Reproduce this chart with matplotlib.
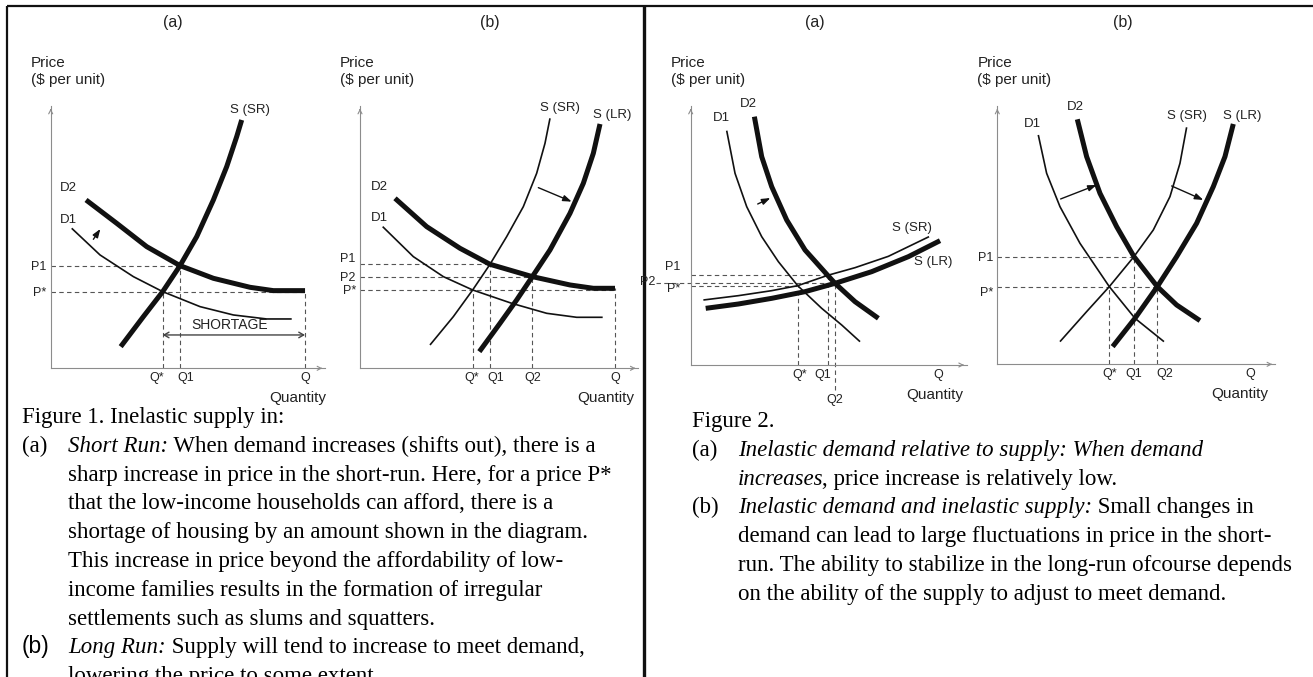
import matplotlib
matplotlib.use("Agg")
import matplotlib.pyplot as plt
from matplotlib.transforms import ScaledTranslation

# ---------- Figure 1 (a): short run ----------
f1a_ssr_q = [21.0, 27.8, 33.6, 38.8, 43.8, 48.8, 52.8, 55.8, 57.3]
f1a_ssr_p = [6.5, 15.5, 23.0, 30.8, 39.5, 50.5, 60.5, 69.5, 74.5]
f1a_d2_q = [10.6, 19.8, 28.8, 38.8, 48.8, 59.8, 66.8, 76.3]
f1a_d2_p = [50.5, 43.5, 36.5, 30.8, 27.0, 24.3, 23.3, 23.3]
f1a_d1_q = [6.3, 14.8, 24.8, 33.6, 44.8, 54.8, 64.8, 72.3]
f1a_d1_p = [42.0, 34.0, 27.5, 23.0, 18.5, 16.0, 14.8, 14.8]
f1a_p = [23.0, 30.8]
f1a_p_lab = ['P*', 'P1']
f1a_p_to = [76.3, 38.8]
f1a_q = [33.6, 38.8, 76.3]
f1a_q_lab = ['Q*', 'Q1', 'Q']
f1a_q_to = [23.0, 30.8, 23.3]
f1a_shortage = 10.0

# ---------- Figure 1 (b): long run ----------
f1b_ssr_q = [21.0, 28.0, 33.8, 39.0, 44.0, 49.0, 53.0, 55.5, 57.0]
f1b_ssr_p = [7.0, 15.5, 23.5, 31.2, 39.5, 48.5, 58.5, 67.5, 75.0]
f1b_slr_q = [35.8, 42.0, 47.0, 51.7, 57.0, 63.0, 67.0, 70.0, 72.0]
f1b_slr_p = [5.0, 13.5, 20.5, 27.5, 35.5, 46.5, 55.5, 64.5, 73.3]
f1b_d2_q = [10.5, 20.0, 30.0, 39.0, 51.7, 63.0, 70.0, 76.5]
f1b_d2_p = [51.0, 42.5, 36.0, 31.2, 27.5, 25.0, 24.0, 24.0]
f1b_d1_q = [6.8, 16.0, 25.0, 33.8, 45.5, 56.0, 65.0, 72.8]
f1b_d1_p = [42.5, 33.5, 27.5, 23.5, 19.5, 16.5, 15.3, 15.3]
f1b_p = [23.5, 27.5, 31.2]
f1b_p_lab = ['P*', 'P2', 'P1']
f1b_p_to = [76.5, 51.7, 39.0]
f1b_q = [33.8, 39.0, 51.7, 76.5]
f1b_q_lab = ['Q*', 'Q1', 'Q2', 'Q']
f1b_q_to = [23.5, 31.2, 27.5, 24.0]

# ---------- Figure 2 (a): inelastic demand ----------
f2a_d1_q = [10.8, 13.3, 16.8, 21.3, 26.3, 32.1, 39.3, 45.3, 50.8]
f2a_d1_p = [70.3, 57.5, 47.5, 38.5, 31.0, 23.8, 17.0, 12.0, 7.0]
f2a_d2_q = [19.1, 21.3, 24.3, 28.8, 34.3, 41.1, 43.3, 49.3, 56.3]
f2a_d2_p = [74.5, 62.5, 53.5, 43.5, 34.5, 26.9, 24.5, 19.0, 14.0]
f2a_ssr_q = [3.8, 14.3, 24.3, 32.1, 41.1, 49.3, 59.3, 71.5]
f2a_ssr_p = [19.5, 20.8, 22.3, 23.8, 26.9, 29.2, 32.6, 38.5]
f2a_slr_q = [4.5, 14.3, 24.3, 34.3, 43.3, 54.3, 65.3, 74.8]
f2a_slr_p = [17.0, 18.3, 20.0, 22.0, 24.5, 28.0, 32.5, 37.3]
f2a_p = [23.8, 26.9]
f2a_p_lab = ['P*', 'P1']
f2a_p_to = [32.1, 41.1]
f2a_p2 = 24.5
f2a_q = [32.1, 41.1, 74.3]
f2a_q_lab = ['Q*', 'Q1', 'Q']
f2a_q_to = [23.8, 26.9, 0.0]
f2a_q2 = 43.3

# ---------- Figure 2 (b): inelastic demand and supply ----------
f2b_d1_q = [12.3, 14.8, 18.8, 24.8, 33.6, 41.3, 50.0]
f2b_d1_p = [68.8, 57.3, 47.3, 36.3, 23.3, 13.8, 6.8]
f2b_d2_q = [24.0, 26.8, 30.8, 35.8, 41.0, 48.0, 53.8, 60.8]
f2b_d2_p = [73.5, 62.3, 51.3, 41.3, 32.3, 23.3, 17.8, 13.1]
f2b_ssr_q = [18.8, 26.8, 33.6, 41.0, 46.8, 51.8, 54.8, 56.8]
f2b_ssr_p = [6.8, 15.8, 23.3, 32.3, 40.3, 50.3, 60.3, 71.1]
f2b_slr_q = [34.6, 41.3, 48.0, 53.8, 59.8, 64.8, 68.3, 70.8]
f2b_slr_p = [5.3, 13.8, 23.3, 32.3, 42.3, 53.3, 62.3, 72.1]
f2b_p = [23.3, 32.3]
f2b_p_lab = ['P*', 'P1']
f2b_p_to = [48.0, 41.0]
f2b_q = [33.6, 41.0, 48.0, 75.8]
f2b_q_lab = ['Q*', 'Q1', 'Q2', 'Q']
f2b_q_to = [23.3, 32.3, 23.3, 0.0]

INK = '#111111'
AXC = '#8c8c8c'
DASH = '#555555'
TXT = '#222222'
SANS = ['Liberation Sans', 'DejaVu Sans']
SERIF = ['Liberation Serif', 'DejaVu Serif']
THIN, THICK = 1.2, 3.6
LBL, TCK, AXL = 9.5, 9, 11
plt.rcParams['font.family'] = SANS

W, H = 1313, 677
U = 10 / 3   # pixels per data unit

fig = plt.figure(figsize=(W / 100, H / 100), dpi=100)
bg = fig.add_axes([0, 0, 1, 1])
bg.set_xlim(0, W)
bg.set_ylim(H, 0)
bg.axis('off')

# frame lines
bg.plot([7, 7], [6, H], color='#111', lw=1.6, solid_capstyle='butt')
bg.plot([7, W], [6, 6], color='#111', lw=1.6, solid_capstyle='butt')
bg.plot([644, 644], [6, H], color='#111', lw=2.4, solid_capstyle='butt')

for x, t in [(173, '(a)'), (490, '(b)'), (815, '(a)'), (1123, '(b)')]:
    bg.text(x, 22, t, ha='center', va='center', fontsize=11.5, color=TXT)


def panel(ox, oy, xmax, ymax):
    ax = fig.add_axes([ox / W, 1 - oy / H, xmax * U / W, ymax * U / H])
    ax.set_xlim(0, xmax)
    ax.set_ylim(0, ymax)
    ax.patch.set_visible(False)
    for s in ['top', 'right']:
        ax.spines[s].set_visible(False)
    for s in ['left', 'bottom']:
        ax.spines[s].set_color(AXC)
        ax.spines[s].set_linewidth(0.8)
    ax.tick_params(length=0, labelsize=TCK, labelcolor=TXT, pad=3)
    ax.set_xticks([])
    ax.set_yticks([])
    arr = dict(arrowstyle='->,head_length=0.35,head_width=0.18', color=AXC, lw=0.8,
               mutation_scale=8)
    ax.annotate('', xy=(xmax, 0), xytext=(xmax - 2, 0), arrowprops=arr, annotation_clip=False)
    ax.annotate('', xy=(0, ymax), xytext=(0, ymax - 2), arrowprops=arr, annotation_clip=False)
    ax.text(-6, ymax + 13, 'Price', fontsize=AXL, color=TXT, ha='left', va='center',
            clip_on=False)
    ax.text(-6, ymax + 7.8, '($ per unit)', fontsize=AXL, color=TXT, ha='left', va='center',
            clip_on=False)
    return ax


def curve(ax, q, p, lw):
    ax.plot(q, p, color=INK, lw=lw, clip_on=False, solid_capstyle='butt', solid_joinstyle='round')


def guides(ax, p, p_to, q, q_to):
    for pv, qe in zip(p, p_to):
        ax.plot([0, qe], [pv, pv], color=DASH, lw=0.8, ls=(0, (4, 3)), clip_on=False)
    for qv, pe in zip(q, q_to):
        ax.plot([qv, qv], [0, pe], color=DASH, lw=0.8, ls=(0, (4, 3)), clip_on=False)


def shift(ax, q0, p0, q1, p1):
    ax.annotate('', xy=(q1, p1), xytext=(q0, p0), annotation_clip=False,
                arrowprops=dict(arrowstyle='-|>,head_length=0.5,head_width=0.18', color=INK,
                                lw=1.0, mutation_scale=10, shrinkA=0, shrinkB=0))


def label(ax, q, p, t, ha='center', size=LBL):
    ax.text(q, p, t, fontsize=size, color=TXT, ha=ha, va='center', clip_on=False)


def nudge(labels, offsets, horizontal):
    # shift crowded tick labels apart, offsets in pixels
    for lab, d in zip(labels, offsets):
        dx, dy = (d, 0) if horizontal else (0, d)
        lab.set_transform(lab.get_transform() +
                          ScaledTranslation(dx / 100, dy / 100, fig.dpi_scale_trans))


def ticks(ax, q, q_lab, p, p_lab, qdx=None, pdy=None):
    ax.set_xticks(q, q_lab)
    if p:
        ax.set_yticks(p, p_lab)
    if qdx:
        nudge(ax.get_xticklabels(), qdx, True)
    if pdy:
        nudge(ax.get_yticklabels(), pdy, False)


def quantity(ax, q):
    ax.text(q, -9, 'Quantity', fontsize=AXL, color=TXT, ha='center', va='center', clip_on=False)


# ---- Figure 1 (a)
ax = panel(50.7, 368.3, 82.3, 78.7)
guides(ax, f1a_p, f1a_p_to, f1a_q, f1a_q_to)
curve(ax, f1a_d1_q, f1a_d1_p, THIN)
curve(ax, f1a_d2_q, f1a_d2_p, THICK)
curve(ax, f1a_ssr_q, f1a_ssr_p, THICK)
ticks(ax, f1a_q, f1a_q_lab, f1a_p, f1a_p_lab, qdx=[-6, 6, 0])
ax.annotate('', xy=(f1a_q[0], f1a_shortage), xytext=(f1a_q[-1], f1a_shortage),
            arrowprops=dict(arrowstyle='<->,head_length=0.35,head_width=0.2', color='#444',
                            lw=1.0, mutation_scale=10, shrinkA=0, shrinkB=0))
label(ax, 53.8, 12.9, 'SHORTAGE', size=10)
shift(ax, 12.8, 38.7, 14.9, 41.8)
label(ax, 5.3, 54.0, 'D2')
label(ax, 5.3, 44.5, 'D1')
label(ax, 59.8, 77.5, 'S (SR)')
quantity(ax, 74.1)

# ---- Figure 1 (b)
ax = panel(360, 368.3, 83.5, 78.7)
guides(ax, f1b_p, f1b_p_to, f1b_q, f1b_q_to)
curve(ax, f1b_d1_q, f1b_d1_p, THIN)
curve(ax, f1b_d2_q, f1b_d2_p, THICK)
curve(ax, f1b_ssr_q, f1b_ssr_p, THIN)
curve(ax, f1b_slr_q, f1b_slr_p, THICK)
ticks(ax, f1b_q, f1b_q_lab, f1b_p, f1b_p_lab, qdx=[-1, 6, 0, 0], pdy=[0, 0, 7])
shift(ax, 53.5, 54.2, 63.5, 50.0)
label(ax, 5.8, 54.3, 'D2')
label(ax, 5.8, 45.0, 'D1')
label(ax, 60.0, 78.0, 'S (SR)')
label(ax, 75.8, 76.0, 'S (LR)')
quantity(ax, 73.8)

# ---- Figure 2 (a)
ax = panel(690.7, 365, 82.8, 77.7)
guides(ax, f2a_p, f2a_p_to, f2a_q, f2a_q_to)
ax.plot([-10.5, f2a_q2], [f2a_p2, f2a_p2], color=DASH, lw=0.8, ls=(0, (4, 3)), clip_on=False)
ax.plot([f2a_q2, f2a_q2], [-7.5, f2a_p2], color=DASH, lw=0.8, ls=(0, (4, 3)), clip_on=False)
curve(ax, f2a_d1_q, f2a_d1_p, THIN)
curve(ax, f2a_d2_q, f2a_d2_p, THICK)
curve(ax, f2a_ssr_q, f2a_ssr_p, THIN)
curve(ax, f2a_slr_q, f2a_slr_p, THICK)
ax.set_xticks(f2a_q, f2a_q_lab)
nudge(ax.get_xticklabels(), [2, -5, 0], True)
label(ax, -3.0, f2a_p[1] + 2.6, f2a_p_lab[1], ha='right', size=TCK)
label(ax, -3.0, f2a_p[0] - 0.9, f2a_p_lab[0], ha='right', size=TCK)
label(ax, -10.6, f2a_p2 + 0.3, 'P2', ha='right', size=TCK)
label(ax, f2a_q2, -10.5, 'Q2', size=TCK)
shift(ax, 20.1, 48.3, 23.9, 50.1)
label(ax, 9.3, 74.0, 'D1')
label(ax, 17.3, 78.3, 'D2')
label(ax, 66.3, 41.2, 'S (SR)')
label(ax, 72.8, 31.0, 'S (LR)')
quantity(ax, 73.3)

# ---- Figure 2 (b)
ax = panel(997.3, 364.3, 83.3, 77.5)
guides(ax, f2b_p, f2b_p_to, f2b_q, f2b_q_to)
curve(ax, f2b_d1_q, f2b_d1_p, THIN)
curve(ax, f2b_d2_q, f2b_d2_p, THICK)
curve(ax, f2b_ssr_q, f2b_ssr_p, THIN)
curve(ax, f2b_slr_q, f2b_slr_p, THICK)
ticks(ax, f2b_q, f2b_q_lab, f2b_p, f2b_p_lab, qdx=[0, 0, 7, 0], pdy=[-5, 0])
shift(ax, 19.0, 49.6, 29.8, 53.8)
shift(ax, 52.3, 53.5, 61.8, 49.3)
label(ax, 10.6, 72.1, 'D1')
label(ax, 23.3, 77.1, 'D2')
label(ax, 56.8, 74.5, 'S (SR)')
label(ax, 73.6, 74.5, 'S (LR)')
quantity(ax, 72.8)

# ---- captions
r = fig.canvas.get_renderer()
N, I = 'normal', 'italic'
CAP = 16.5


def rich(x, y, parts, size=CAP):
    for k, (txt, fam, sty) in enumerate(parts):
        t = bg.text(x, y, txt, fontsize=size, family=fam, style=sty, ha='left',
                    va='baseline', color='#000')
        bb = t.get_window_extent(renderer=r)
        x = bg.transData.inverted().transform((bb.x1, bb.y0))[0]
        # italic overhang before punctuation that follows without a space
        if sty == I and k + 1 < len(parts) and not parts[k + 1][0].startswith(' '):
            x -= 2


cap1 = [
    (22, [('Figure 1. Inelastic supply in:', SERIF, N)]),
    (22, [('(a)', SERIF, N)]),
    (68, [('Short Run:', SERIF, I), (' When demand increases (shifts out), there is a', SERIF, N)]),
    (68, [('sharp increase in price in the short-run. Here, for a price P*', SERIF, N)]),
    (68, [('that the low-income households can afford, there is a', SERIF, N)]),
    (68, [('shortage of housing by an amount shown in the diagram.', SERIF, N)]),
    (68, [('This increase in price beyond the affordability of low-', SERIF, N)]),
    (68, [('income families results in the formation of irregular', SERIF, N)]),
    (68, [('settlements such as slums and squatters.', SERIF, N)]),
    (22, [('(b)', SANS, N)]),
    (68, [('Long Run:', SERIF, I), (' Supply will tend to increase to meet demand,', SERIF, N)]),
    (68, [('lowering the price to some extent.', SERIF, N)]),
]
cap2 = [
    (692, [('Figure 2.', SERIF, N)]),
    (692, [('(a)', SERIF, N)]),
    (738, [('Inelastic demand relative to supply: When demand', SERIF, I)]),
    (738, [('increases', SERIF, I), (', price increase is relatively low.', SERIF, N)]),
    (692, [('(b)', SERIF, N)]),
    (738, [('Inelastic demand and inelastic supply:', SERIF, I), (' Small changes in', SERIF, N)]),
    (738, [('demand can lead to large fluctuations in price in the short-', SERIF, N)]),
    (738, [('run. The ability to stabilize in the long-run ofcourse depends', SERIF, N)]),
    (738, [('on the ability of the supply to adjust to meet demand.', SERIF, N)]),
]


def block(lines, y0, step=28.8):
    row = 0
    for x, parts in lines:
        rich(x, y0 + row * step, parts)
        # the "(a)"/"(b)" markers share a row with the following line
        if parts[0][0] not in ('(a)', '(b)'):
            row += 1


block(cap1, 423)
block(cap2, 427)

fig.savefig('out.png', dpi=100)
